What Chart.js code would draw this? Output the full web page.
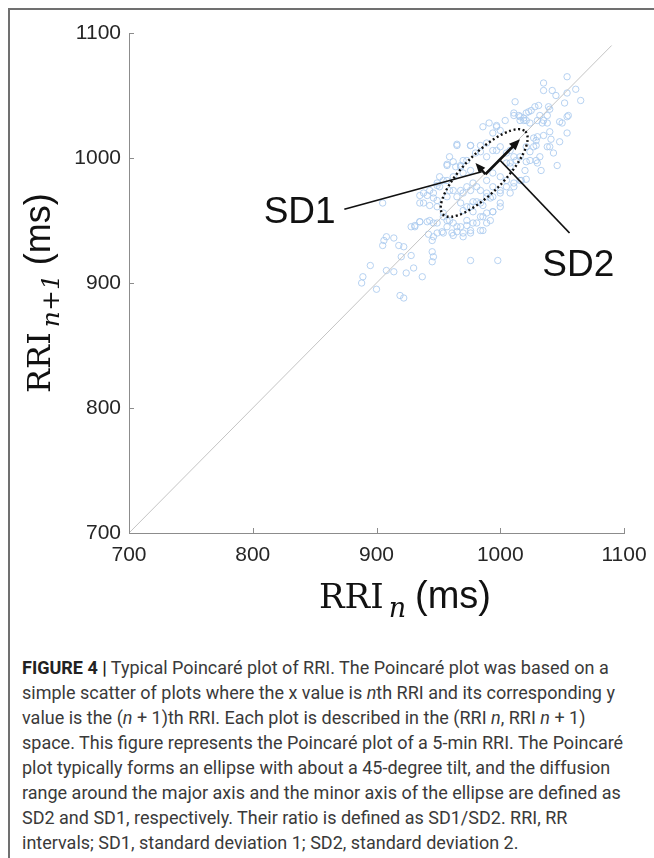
<!DOCTYPE html>
<html>
<head>
<meta charset="utf-8">
<script src="https://cdn.jsdelivr.net/npm/chart.js@4.4.1/dist/chart.umd.min.js"></script>
<style>
  html, body { margin: 0; padding: 0; background: #fff; }
  body { width: 654px; height: 858px; position: relative; overflow: hidden; }
  #frame { position: absolute; left: 8px; top: 8px; right: 0; bottom: 0;
           border-top: 2px solid #707070; border-left: 2px solid #707070; }
  #wrap { position: absolute; left: 0; top: 0; width: 654px; height: 640px; }
  #caption { position: absolute; left: 22px; top: 655px; font-family: Roboto, "Liberation Sans", sans-serif;
             font-size: 18px; line-height: 25px; color: #3a3a3a; white-space: nowrap; }
  #caption b { color: #222; }
</style>
</head>
<body>
<div id="frame"></div>
<div id="wrap"><canvas id="poincare"></canvas></div>
<div id="caption">
  <b>FIGURE 4 |</b> Typical Poincaré plot of RRI. The Poincaré plot was based on a<br>
  simple scatter of plots where the x value is <i>n</i>th RRI and its corresponding y<br>
  value is the (<i>n</i> + 1)th RRI. Each plot is described in the (RRI <i>n</i>, RRI <i>n</i> + 1)<br>
  space. This figure represents the Poincaré plot of a 5-min RRI. The Poincaré<br>
  plot typically forms an ellipse with about a 45-degree tilt, and the diffusion<br>
  range around the major axis and the minor axis of the ellipse are defined as<br>
  SD2 and SD1, respectively. Their ratio is defined as SD1/SD2. RRI, RR<br>
  intervals; SD1, standard deviation 1; SD2, standard deviation 2.
</div>
<script>
// RRI(n) and RRI(n+1), ms
const rriN = [
  1054, 1035, 1042, 1045, 1035, 1061, 1065, 1054, 1052, 1055, 1050, 1012, 1031, 1028, 1025, 1023,
  1032, 1039, 1040, 1035, 1038, 1011, 1015, 1019, 1021, 1016, 986, 991, 997, 1000, 994, 1004,
  1041, 1040, 1043, 1046, 1033, 1029, 1027, 1029, 1021, 1024, 1029, 1021, 1020, 1017, 1021, 965,
  976, 980, 984, 989, 994, 1000, 1008, 1011, 1005, 957, 962, 968, 970, 951, 949, 957,
  935, 941, 946, 951, 938, 943, 949, 957, 962, 968, 973, 978, 984, 989, 994, 1000,
  1005, 1011, 1016, 968, 973, 978, 984, 989, 994, 1000, 954, 957, 962, 968, 973, 978,
  984, 989, 994, 928, 931, 935, 941, 946, 949, 953, 942, 945, 957, 961, 965, 970,
  976, 986, 906, 908, 914, 918, 922, 905, 928, 920, 945, 946, 945, 976, 998, 895,
  889, 888, 900, 908, 914, 924, 930, 937, 919, 922, 905,
  965, 976, 959, 957, 964, 968, 973, 976, 970, 962, 954, 949, 943, 938, 935, 946,
  949, 959, 965, 970, 976, 981, 989, 994, 1000, 1005, 1011, 1008, 1000, 992, 986, 981,
  976, 970, 978, 986, 994, 1000, 992, 981, 973, 965, 959, 954, 949, 943, 935, 931,
  946, 954, 962, 970, 976, 984, 989, 984, 989, 997, 1005, 1013, 1008,
  1021, 1016, 1011, 1038, 1034, 1030, 1024, 1019, 997, 1048, 1054, 1040, 1035, 1030, 1027, 1038,
  1032, 1024, 1030, 1016, 1008, 1054, 1048
];
const rriN1 = [
  1065, 1060, 1054, 1050, 1054, 1055, 1046, 1052, 1044, 1034, 1028, 1045, 1042, 1041, 1038, 1037,
  1034, 1041, 1039, 1030, 1028, 1036, 1034, 1032, 1030, 1030, 1025, 1028, 1026, 1022, 1020, 1030,
  1015, 1009, 1004, 994, 990, 1014, 1016, 1010, 1009, 1005, 998, 997, 990, 982, 983, 1010,
  1010, 1004, 1005, 1001, 1006, 1009, 1006, 1001, 996, 994, 997, 993, 998, 985, 980, 982,
  970, 970, 972, 977, 964, 962, 966, 969, 974, 974, 977, 980, 974, 972, 977, 974,
  977, 980, 982, 964, 961, 965, 964, 969, 969, 964, 956, 950, 948, 945, 950, 948,
  953, 956, 957, 945, 946, 949, 949, 948, 940, 941, 939, 934, 945, 940, 941, 937,
  940, 942, 934, 937, 936, 930, 929, 930, 922, 921, 925, 921, 917, 918, 918, 914,
  905, 900, 895, 910, 909, 908, 912, 905, 890, 888, 964,
  1011, 1010, 1001, 995, 993, 994, 998, 990, 988, 985, 982, 978, 974, 972, 964, 968,
  961, 974, 969, 972, 974, 977, 982, 988, 985, 982, 977, 972, 972, 968, 962, 965,
  961, 958, 957, 953, 957, 961, 950, 948, 946, 945, 950, 953, 948, 950, 949, 945,
  937, 940, 938, 940, 942, 942, 948, 1010, 1012, 1006, 1004, 998, 993,
  1036, 1033, 1034, 1034, 1028, 1030, 1028, 1030, 1025, 1029, 1033, 1021, 1018, 1017, 1009, 1009,
  1001, 998, 996, 1001, 996, 1020, 1013
];
const tickVals = [700, 800, 900, 1000, 1100];
const identityLine = [700, 1090];

// annotation geometry, in ms
const ellipseCenter = [987, 988];
const ellipseAxes = [47, 16];
const sd1Arrow = [[988, 987], [980, 996]];
const sd2Arrow = [[988, 987], [1016, 1015]];
const sd1Leader = [[874, 959], [985, 989]];
const sd2Leader = [[1056, 940], [1000, 998]];
const sd1Label = [867, 948];
const sd2Label = [1034, 906];

const axisColor = '#8c8c8c';
const tickFont = { family: '"Liberation Sans", Arial, sans-serif', size: 21 };

function arrow(ctx, a, b, head) {
  const ang = Math.atan2(b[1] - a[1], b[0] - a[0]);
  const bx = b[0] - head * 0.8 * Math.cos(ang), by = b[1] - head * 0.8 * Math.sin(ang);
  ctx.beginPath(); ctx.moveTo(a[0], a[1]); ctx.lineTo(bx, by); ctx.stroke();
  const w = head * 0.42;
  ctx.beginPath();
  ctx.moveTo(b[0], b[1]);
  ctx.lineTo(b[0] - head * Math.cos(ang) + w * Math.sin(ang), b[1] - head * Math.sin(ang) - w * Math.cos(ang));
  ctx.lineTo(b[0] - head * Math.cos(ang) - w * Math.sin(ang), b[1] - head * Math.sin(ang) + w * Math.cos(ang));
  ctx.closePath();
  ctx.fill();
}

const overlay = {
  id: 'overlay',
  afterDatasetsDraw(chart) {
    const { ctx, scales: { x, y } } = chart;
    const px = p => [x.getPixelForValue(p[0]), y.getPixelForValue(p[1])];
    ctx.save();

    // inward tick marks
    ctx.strokeStyle = axisColor;
    ctx.lineWidth = 1;
    tickVals.forEach(v => {
      const tx = Math.round(x.getPixelForValue(v)) + 0.5;
      ctx.beginPath(); ctx.moveTo(tx, y.bottom); ctx.lineTo(tx, y.bottom - 5); ctx.stroke();
      const ty = Math.round(y.getPixelForValue(v)) + 0.5;
      ctx.beginPath(); ctx.moveTo(x.left, ty); ctx.lineTo(x.left + 5, ty); ctx.stroke();
    });

    // dotted ellipse
    const c = px(ellipseCenter);
    const s = Math.SQRT1_2;
    const ma = px([ellipseCenter[0] + ellipseAxes[0] * s, ellipseCenter[1] + ellipseAxes[0] * s]);
    const mi = px([ellipseCenter[0] - ellipseAxes[1] * s, ellipseCenter[1] + ellipseAxes[1] * s]);
    const ra = Math.hypot(ma[0] - c[0], ma[1] - c[1]);
    const rb = Math.hypot(mi[0] - c[0], mi[1] - c[1]);
    const rot = Math.atan2(ma[1] - c[1], ma[0] - c[0]);
    ctx.strokeStyle = '#111';
    ctx.lineWidth = 2.4;
    ctx.setLineDash([2, 2.6]);
    ctx.beginPath();
    ctx.ellipse(c[0], c[1], ra, rb, rot, 0, Math.PI * 2);
    ctx.stroke();
    ctx.setLineDash([]);

    // leaders and arrows
    ctx.strokeStyle = '#111';
    ctx.fillStyle = '#111';
    ctx.lineWidth = 1.8;
    [sd1Leader, sd2Leader].forEach(l => {
      const a = px(l[0]), b = px(l[1]);
      ctx.beginPath(); ctx.moveTo(a[0], a[1]); ctx.lineTo(b[0], b[1]); ctx.stroke();
    });
    ctx.lineWidth = 2.6;
    arrow(ctx, px(sd1Arrow[0]), px(sd1Arrow[1]), 10);
    arrow(ctx, px(sd2Arrow[0]), px(sd2Arrow[1]), 11);

    // labels
    ctx.font = '37px "Liberation Sans", Arial, sans-serif';
    ctx.textBaseline = 'alphabetic';
    ctx.textAlign = 'right';
    const l1 = px(sd1Label);
    ctx.fillText('SD1', l1[0], l1[1]);
    ctx.textAlign = 'left';
    const l2 = px(sd2Label);
    ctx.fillText('SD2', l2[0], l2[1]);
    ctx.restore();
  },
  afterDraw(chart) {
    const ctx = chart.ctx;
    const title = (sub, size) => {
      let x0 = 0;
      ctx.font = size + 'px "DejaVu Serif", serif';
      ctx.fillText('RRI', x0, 0); x0 += ctx.measureText('RRI').width + 5;
      ctx.font = 'italic ' + Math.round(size * 0.78) + 'px "DejaVu Serif", serif';
      ctx.fillText(sub, x0, 9); x0 += ctx.measureText(sub).width + 9;
      ctx.font = Math.round(size * 1.12) + 'px "Liberation Sans", Arial, sans-serif';
      ctx.fillText('(ms)', x0, 0);
    };
    ctx.save();
    ctx.fillStyle = '#111';
    ctx.textAlign = 'left';
    ctx.textBaseline = 'alphabetic';
    // x title
    ctx.save(); ctx.translate(319, 608); title('n', 34); ctx.restore();
    // y title
    ctx.save(); ctx.translate(50, 393); ctx.rotate(-Math.PI / 2); title('n+1', 32); ctx.restore();
    ctx.restore();
  }
};

const points = rriN.map((v, i) => ({ x: v, y: rriN1[i] }));

new Chart(document.getElementById('poincare'), {
  type: 'scatter',
  data: {
    datasets: [
      {
        type: 'line',
        data: identityLine.map(v => ({ x: v, y: v })),
        borderColor: '#c4c4c4',
        borderWidth: 1,
        pointRadius: 0,
        fill: false,
        order: 0,
      },
      {
        data: points,
        pointStyle: 'circle',
        pointRadius: 3.2,
        borderWidth: 1,
        borderColor: 'rgba(170,202,238,0.85)',
        backgroundColor: 'rgba(0,0,0,0)',
        order: 1,
      },
    ],
  },
  options: {
    responsive: true,
    maintainAspectRatio: false,
    animation: false,
    layout: { padding: { left: 0, top: 33, right: 30, bottom: 67 } },
    scales: {
      x: {
        type: 'linear', min: 700, max: 1100,
        afterBuildTicks: s => { s.ticks = tickVals.map(v => ({ value: v })); },
        afterFit: s => { s.height = 40; },
        grid: { display: false },
        border: { display: true, color: axisColor, width: 1 },
        ticks: { font: tickFont, color: '#262626', padding: 2, maxRotation: 0, callback: v => String(v) },
      },
      y: {
        type: 'linear', min: 700, max: 1100,
        afterBuildTicks: s => { s.ticks = tickVals.map(v => ({ value: v })); },
        afterFit: s => { s.width = 129; },
        grid: { display: false },
        border: { display: true, color: axisColor, width: 1 },
        ticks: { font: tickFont, color: '#262626', padding: 0, callback: v => String(v) },
      },
    },
    plugins: {
      legend: { display: false },
      tooltip: { enabled: false },
    },
  },
  plugins: [overlay],
});
</script>
</body>
</html>
